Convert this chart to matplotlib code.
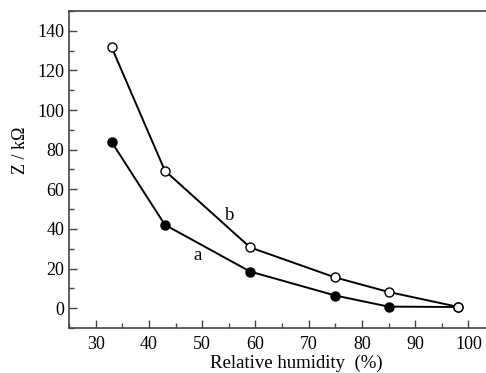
import numpy as np
import matplotlib.pyplot as plt
from matplotlib.ticker import MultipleLocator

plt.rcParams['font.family'] = ['Liberation Serif', 'DejaVu Serif']

# data
humidity = [33, 43, 59, 75, 85, 98]
z_a = [83.9, 42.1, 18.5, 6.4, 0.8, 0.6]
z_b = [131.7, 69.4, 30.7, 15.5, 8.2, 0.7]

fig = plt.figure(figsize=(4.86, 3.73), dpi=100)
ax = fig.add_axes([0.142, 0.1206, 0.858, 0.85])

ax.plot(humidity, z_a, '-o', color='black', lw=1.4, ms=6.5,
        mfc='black', mec='black', zorder=3)
ax.plot(humidity, z_b, '-o', color='black', lw=1.4, ms=6.5,
        mfc='white', mec='black', mew=1.0, zorder=4)

ax.text(49.2, 26.8, 'a', fontsize=13.5, ha='center', va='center')
ax.text(55.2, 47, 'b', fontsize=13.5, ha='center', va='center')

ax.set_xlim(25, 103.3)
ax.set_ylim(-10, 150)
ax.xaxis.set_major_locator(MultipleLocator(10))
ax.xaxis.set_minor_locator(MultipleLocator(5))
ax.yaxis.set_major_locator(MultipleLocator(20))
ax.yaxis.set_minor_locator(MultipleLocator(10))
ax.set_xticks(np.arange(30, 101, 10))
ax.tick_params(which='both', direction='in', labelsize=13, color='#444444',
               top=False, right=False)
ax.tick_params(which='major', length=6, width=1)
ax.tick_params(which='minor', length=3.5, width=1)
ax.tick_params(axis='x', pad=6)

ax.spines['right'].set_visible(False)
for s in ['left', 'bottom', 'top']:
    ax.spines[s].set_color('#444444')
    ax.spines[s].set_linewidth(1.2)

ax.set_xlabel('Relative humidity  (%)', fontsize=13.5)
ax.xaxis.set_label_coords(0.545, -0.085, transform=ax.transAxes)
ax.xaxis.label.set_va('top')
ax.set_ylabel('Z / k\u03a9', fontsize=13)
ax.yaxis.set_label_coords(-0.095, 0.56, transform=ax.transAxes)

fig.savefig('out.png', dpi=100)
